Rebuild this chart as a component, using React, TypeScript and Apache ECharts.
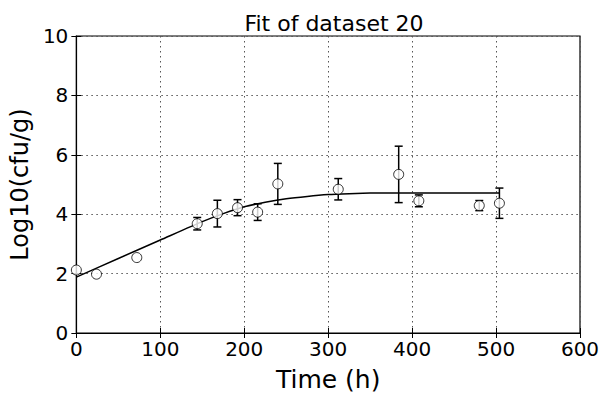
import React, { useEffect, useRef } from "react";
import * as echarts from "echarts";

const titleText = "Fit of dataset 20";
const xName = "Time (h)";
const yName = "Log10(cfu/g)";

const times = [0, 24, 72, 144, 168, 192, 216, 240, 312, 384, 408, 480, 504];
const values = [2.12, 1.98, 2.54, 3.68, 4.02, 4.22, 4.07, 5.02, 4.84, 5.34, 4.45, 4.29, 4.37];
const errors = [0, 0, 0, 0.21, 0.45, 0.27, 0.28, 0.69, 0.36, 0.95, 0.2, 0.17, 0.51];

const fitTimes = [0, 50, 100, 150, 175, 200, 225, 250, 275, 300, 325, 350, 400, 450, 504];
const fitValues = [1.88, 2.51, 3.13, 3.75, 4.02, 4.25, 4.4, 4.52, 4.6, 4.66, 4.69, 4.71, 4.71, 4.71, 4.71];

const FONT = "DejaVu Sans";

export default function App() {
  const ref = useRef<HTMLDivElement>(null);
  useEffect(() => {
    document.body.style.margin = "0";
    const chart = echarts.init(ref.current!, null, { renderer: "svg" });
    const points = times.map((t, i) => [t, values[i]]);
    const errData = times.map((t, i) => [t, values[i] - errors[i], values[i] + errors[i]]);
    const fit = fitTimes.map((t, i) => [t, fitValues[i]]);
    const gridLine = { show: true, lineStyle: { color: "#555", width: 1, type: [1.5, 3.5] as any } };
    chart.setOption({
      animation: false,
      backgroundColor: "#fff",
      title: {
        text: titleText,
        left: 329,
        top: 7,
        textAlign: "center",
        textStyle: { fontFamily: FONT, fontSize: 22, fontWeight: "normal", color: "#000" },
      },
      grid: { left: 76, right: 26, top: 36, bottom: 65, show: true, borderColor: "#000", borderWidth: 1.2, backgroundColor: "transparent" },
      xAxis: [
        {
          type: "value", min: 0, max: 600, interval: 100,
          name: xName, nameLocation: "middle", nameGap: 34,
          nameTextStyle: { fontFamily: FONT, fontSize: 25, color: "#000" },
          axisLine: { show: true, lineStyle: { color: "#000", width: 1.2 } },
          axisTick: { show: true, inside: true, length: 5, lineStyle: { color: "#000" } },
          axisLabel: { fontFamily: FONT, fontSize: 20, color: "#000", margin: 6 },
          splitLine: gridLine,
        },
        {
          type: "value", min: 0, max: 600, interval: 100, position: "top",
          axisLine: { show: false },
          axisTick: { show: true, inside: true, length: 5, lineStyle: { color: "#000" } },
          axisLabel: { show: false },
          splitLine: { show: false },
        },
      ],
      yAxis: [
        {
          type: "value", min: 0, max: 10, interval: 2,
          name: yName, nameLocation: "middle", nameGap: 40,
          nameTextStyle: { fontFamily: FONT, fontSize: 24, color: "#000" },
          axisLine: { show: true, lineStyle: { color: "#000", width: 1.2 } },
          axisTick: { show: true, inside: true, length: 5, lineStyle: { color: "#000" } },
          axisLabel: { fontFamily: FONT, fontSize: 20, color: "#000", margin: 8 },
          splitLine: gridLine,
        },
        {
          type: "value", min: 0, max: 10, interval: 2, position: "right",
          axisLine: { show: false },
          axisTick: { show: true, inside: true, length: 5, lineStyle: { color: "#000" } },
          axisLabel: { show: false },
          splitLine: { show: false },
        },
      ],
      series: [
        {
          type: "custom",
          data: errData,
          z: 2,
          renderItem: (params: any, api: any) => {
            const x = api.value(0);
            const lo = api.coord([x, api.value(1)]);
            const hi = api.coord([x, api.value(2)]);
            if (Math.abs(hi[1] - lo[1]) < 0.5) return { type: "group", children: [] };
            const cap = 4;
            const style = { stroke: "#000", lineWidth: 1.5 };
            return {
              type: "group",
              children: [
                { type: "line", shape: { x1: lo[0], y1: lo[1], x2: hi[0], y2: hi[1] }, style },
                { type: "line", shape: { x1: lo[0] - cap, y1: lo[1], x2: lo[0] + cap, y2: lo[1] }, style },
                { type: "line", shape: { x1: hi[0] - cap, y1: hi[1], x2: hi[0] + cap, y2: hi[1] }, style },
              ],
            };
          },
        },
        {
          type: "line",
          data: fit,
          smooth: 0.2,
          showSymbol: false,
          z: 3,
          lineStyle: { color: "#000", width: 1.5 },
        },
        {
          type: "scatter",
          data: points,
          symbol: "circle",
          symbolSize: 10,
          z: 4,
          itemStyle: { color: "#fff", borderColor: "#000", borderWidth: 1 },
        },
      ],
    });
    return () => chart.dispose();
  }, []);
  return <div ref={ref} style={{ width: 606, height: 398 }} />;
}
